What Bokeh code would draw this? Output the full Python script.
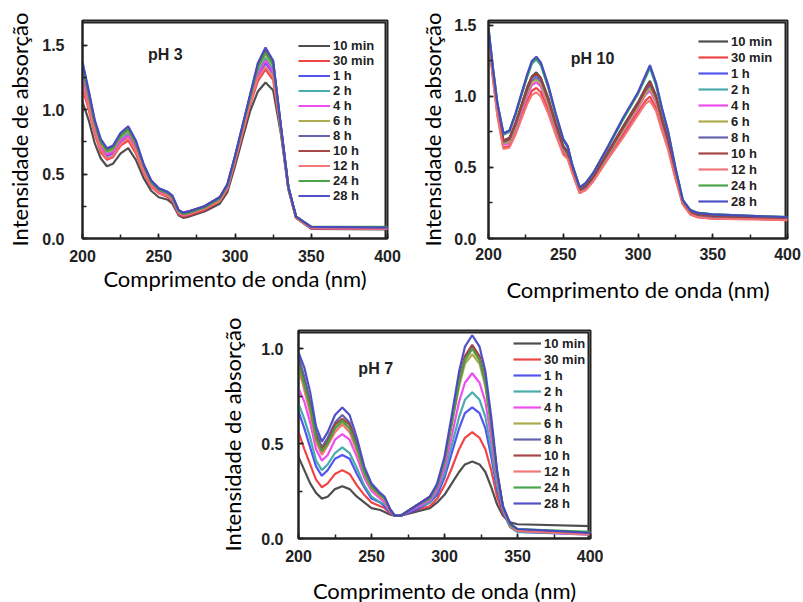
from bokeh.plotting import figure
from bokeh.layouts import column, row, Spacer
from bokeh.models import (Legend, LegendItem, Label, SingleIntervalTicker,
                          PrintfTickFormatter, Range1d)
from bokeh.embed import file_html
from bokeh.resources import INLINE

labels = ["10 min", "30 min", "1 h", "2 h", "4 h", "6 h", "8 h", "10 h", "12 h", "24 h", "28 h"]
colors = ["#444444", "#ee3b3b", "#4b4bee", "#3fa7a7", "#ee44ee", "#a8a845",
          "#5c5ca8", "#a23d3d", "#f27272", "#41a141", "#4747c4"]

# ---------------- pH 3 ----------------
wl_ph3 = [200, 204, 208, 212, 216, 220, 225, 230, 235, 240, 245, 250, 256, 259, 263, 266,
          270, 280, 290, 295, 300, 305, 310, 315, 320, 325, 330, 335, 340, 350, 400]
ph3_10min = [1.06, 0.92, 0.74, 0.62, 0.56, 0.58, 0.66, 0.70, 0.61, 0.47, 0.37, 0.32, 0.30, 0.27, 0.18, 0.16, 0.17, 0.21, 0.27, 0.36, 0.56, 0.78, 0.99, 1.14, 1.21, 1.15, 0.82, 0.38, 0.16, 0.075, 0.07]
ph3_30min = [1.17, 1.00, 0.81, 0.67, 0.61, 0.63, 0.72, 0.76, 0.66, 0.51, 0.40, 0.35, 0.32, 0.29, 0.19, 0.17, 0.18, 0.22, 0.29, 0.38, 0.59, 0.82, 1.04, 1.22, 1.31, 1.23, 0.84, 0.39, 0.16, 0.08, 0.075]
ph3_1h = [1.23, 1.05, 0.84, 0.70, 0.64, 0.66, 0.75, 0.80, 0.69, 0.53, 0.41, 0.36, 0.33, 0.30, 0.20, 0.18, 0.19, 0.23, 0.30, 0.39, 0.61, 0.84, 1.06, 1.26, 1.36, 1.28, 0.85, 0.39, 0.17, 0.08, 0.08]
ph3_2h = [1.27, 1.08, 0.86, 0.72, 0.66, 0.68, 0.77, 0.82, 0.71, 0.55, 0.43, 0.37, 0.34, 0.31, 0.21, 0.19, 0.20, 0.24, 0.31, 0.40, 0.62, 0.85, 1.08, 1.29, 1.40, 1.31, 0.86, 0.39, 0.17, 0.085, 0.08]
ph3_4h = [1.25, 1.06, 0.85, 0.71, 0.65, 0.67, 0.76, 0.80, 0.70, 0.54, 0.42, 0.36, 0.34, 0.31, 0.20, 0.18, 0.19, 0.23, 0.30, 0.40, 0.61, 0.84, 1.07, 1.27, 1.38, 1.29, 0.86, 0.39, 0.17, 0.08, 0.08]
ph3_6h = [1.31, 1.11, 0.89, 0.74, 0.67, 0.69, 0.79, 0.84, 0.73, 0.56, 0.44, 0.38, 0.35, 0.32, 0.21, 0.19, 0.20, 0.24, 0.31, 0.41, 0.63, 0.86, 1.10, 1.32, 1.43, 1.34, 0.87, 0.40, 0.17, 0.085, 0.08]
ph3_8h = [1.35, 1.14, 0.91, 0.76, 0.69, 0.71, 0.81, 0.86, 0.75, 0.57, 0.45, 0.39, 0.36, 0.33, 0.22, 0.20, 0.21, 0.25, 0.32, 0.42, 0.64, 0.87, 1.11, 1.35, 1.46, 1.37, 0.88, 0.40, 0.17, 0.09, 0.085]
ph3_10h = [1.34, 1.13, 0.90, 0.75, 0.69, 0.71, 0.80, 0.85, 0.74, 0.57, 0.44, 0.38, 0.35, 0.32, 0.22, 0.20, 0.21, 0.25, 0.32, 0.41, 0.63, 0.87, 1.11, 1.34, 1.45, 1.36, 0.87, 0.40, 0.17, 0.09, 0.085]
ph3_12h = [1.20, 1.02, 0.82, 0.69, 0.62, 0.64, 0.73, 0.78, 0.68, 0.52, 0.41, 0.35, 0.33, 0.30, 0.20, 0.18, 0.19, 0.23, 0.29, 0.39, 0.60, 0.82, 1.05, 1.24, 1.33, 1.25, 0.85, 0.39, 0.16, 0.08, 0.075]
ph3_24h = [1.33, 1.12, 0.90, 0.75, 0.68, 0.70, 0.80, 0.85, 0.74, 0.57, 0.44, 0.38, 0.35, 0.32, 0.21, 0.19, 0.20, 0.24, 0.31, 0.41, 0.63, 0.87, 1.10, 1.33, 1.44, 1.35, 0.87, 0.40, 0.17, 0.09, 0.09]
ph3_28h = [1.37, 1.15, 0.92, 0.77, 0.70, 0.72, 0.82, 0.87, 0.76, 0.58, 0.45, 0.39, 0.36, 0.33, 0.22, 0.20, 0.21, 0.25, 0.32, 0.42, 0.64, 0.88, 1.12, 1.36, 1.48, 1.38, 0.88, 0.40, 0.17, 0.09, 0.085]

# ---------------- pH 10 ----------------
wl_ph10 = [200, 203, 206, 210, 214, 218, 222, 226, 229, 232, 235, 240, 245, 250, 253, 256, 261,
           265, 270, 280, 290, 300, 305, 308, 312, 316, 320, 325, 330, 335, 340, 350, 375, 400]
ph10_10min = [1.45, 1.17, 0.91, 0.69, 0.71, 0.81, 0.94, 1.07, 1.14, 1.17, 1.13, 0.99, 0.81, 0.65, 0.61, 0.49, 0.34, 0.37, 0.43, 0.61, 0.79, 0.96, 1.06, 1.11, 1.01, 0.85, 0.70, 0.47, 0.26, 0.19, 0.17, 0.16, 0.15, 0.14]
ph10_30min = [1.43, 1.13, 0.87, 0.64, 0.65, 0.75, 0.86, 0.97, 1.04, 1.06, 1.03, 0.90, 0.75, 0.60, 0.57, 0.47, 0.32, 0.35, 0.41, 0.57, 0.73, 0.89, 0.97, 1.00, 0.92, 0.78, 0.65, 0.43, 0.24, 0.17, 0.15, 0.14, 0.14, 0.13]
ph10_1h = [1.44, 1.15, 0.90, 0.67, 0.69, 0.79, 0.91, 1.03, 1.11, 1.13, 1.10, 0.96, 0.79, 0.63, 0.60, 0.48, 0.34, 0.36, 0.42, 0.60, 0.77, 0.93, 1.03, 1.07, 0.98, 0.82, 0.68, 0.45, 0.25, 0.18, 0.16, 0.15, 0.145, 0.14]
ph10_2h = [1.48, 1.19, 0.94, 0.73, 0.75, 0.87, 1.01, 1.14, 1.23, 1.26, 1.22, 1.06, 0.87, 0.69, 0.64, 0.52, 0.36, 0.39, 0.46, 0.64, 0.84, 1.02, 1.13, 1.20, 1.08, 0.91, 0.75, 0.49, 0.27, 0.20, 0.18, 0.17, 0.16, 0.15]
ph10_4h = [1.44, 1.14, 0.89, 0.66, 0.67, 0.77, 0.89, 1.01, 1.08, 1.10, 1.07, 0.94, 0.77, 0.62, 0.59, 0.48, 0.33, 0.35, 0.42, 0.59, 0.75, 0.92, 1.01, 1.04, 0.96, 0.81, 0.67, 0.44, 0.25, 0.18, 0.16, 0.15, 0.14, 0.135]
ph10_6h = [1.44, 1.15, 0.89, 0.67, 0.68, 0.78, 0.91, 1.03, 1.10, 1.12, 1.09, 0.95, 0.78, 0.63, 0.59, 0.48, 0.33, 0.36, 0.42, 0.59, 0.76, 0.93, 1.02, 1.06, 0.97, 0.82, 0.68, 0.45, 0.25, 0.18, 0.16, 0.15, 0.144, 0.137]
ph10_8h = [1.45, 1.16, 0.90, 0.68, 0.70, 0.80, 0.93, 1.05, 1.13, 1.15, 1.12, 0.98, 0.80, 0.64, 0.60, 0.49, 0.34, 0.36, 0.43, 0.60, 0.78, 0.95, 1.05, 1.09, 1.00, 0.84, 0.69, 0.46, 0.25, 0.18, 0.16, 0.15, 0.147, 0.14]
ph10_10h = [1.45, 1.16, 0.91, 0.69, 0.70, 0.81, 0.93, 1.06, 1.14, 1.16, 1.13, 0.98, 0.81, 0.65, 0.61, 0.49, 0.34, 0.37, 0.43, 0.61, 0.78, 0.95, 1.05, 1.10, 1.00, 0.84, 0.70, 0.46, 0.26, 0.19, 0.17, 0.16, 0.148, 0.14]
ph10_12h = [1.42, 1.12, 0.86, 0.63, 0.64, 0.73, 0.84, 0.95, 1.01, 1.03, 1.00, 0.88, 0.73, 0.59, 0.56, 0.46, 0.32, 0.34, 0.40, 0.56, 0.71, 0.87, 0.95, 0.97, 0.90, 0.76, 0.63, 0.42, 0.24, 0.17, 0.15, 0.14, 0.135, 0.13]
ph10_24h = [1.48, 1.20, 0.95, 0.74, 0.76, 0.87, 1.01, 1.15, 1.24, 1.27, 1.23, 1.07, 0.87, 0.70, 0.65, 0.52, 0.36, 0.39, 0.46, 0.65, 0.84, 1.02, 1.14, 1.21, 1.09, 0.91, 0.76, 0.50, 0.27, 0.20, 0.18, 0.17, 0.16, 0.15]
ph10_28h = [1.48, 1.20, 0.95, 0.74, 0.76, 0.88, 1.02, 1.16, 1.25, 1.28, 1.24, 1.08, 0.88, 0.70, 0.65, 0.52, 0.36, 0.39, 0.46, 0.65, 0.85, 1.03, 1.15, 1.22, 1.10, 0.92, 0.76, 0.50, 0.27, 0.20, 0.18, 0.17, 0.16, 0.15]

# ---------------- pH 7 ----------------
wl_ph7 = [200, 204, 208, 212, 216, 220, 225, 230, 235, 240, 245, 250, 256, 259, 263, 266, 270,
          280, 290, 295, 300, 305, 310, 314, 319, 324, 328, 332, 336, 340, 345, 350, 400]
ph7_10min = [0.43, 0.36, 0.29, 0.24, 0.21, 0.22, 0.26, 0.275, 0.26, 0.22, 0.19, 0.16, 0.15, 0.14, 0.125, 0.12, 0.12, 0.14, 0.16, 0.19, 0.23, 0.29, 0.35, 0.39, 0.405, 0.39, 0.35, 0.27, 0.18, 0.12, 0.085, 0.075, 0.065]
ph7_30min = [0.56, 0.47, 0.39, 0.31, 0.27, 0.29, 0.34, 0.36, 0.34, 0.28, 0.23, 0.19, 0.17, 0.16, 0.13, 0.12, 0.12, 0.15, 0.17, 0.21, 0.28, 0.37, 0.47, 0.53, 0.56, 0.53, 0.47, 0.36, 0.22, 0.13, 0.07, 0.045, 0.03]
ph7_1h = [0.67, 0.58, 0.48, 0.38, 0.33, 0.36, 0.42, 0.44, 0.42, 0.34, 0.27, 0.21, 0.19, 0.17, 0.135, 0.12, 0.12, 0.15, 0.19, 0.23, 0.32, 0.45, 0.58, 0.66, 0.69, 0.66, 0.58, 0.43, 0.26, 0.14, 0.06, 0.035, 0.02]
ph7_2h = [0.71, 0.63, 0.53, 0.41, 0.36, 0.39, 0.45, 0.48, 0.45, 0.37, 0.28, 0.22, 0.19, 0.18, 0.14, 0.12, 0.12, 0.16, 0.19, 0.25, 0.34, 0.49, 0.64, 0.73, 0.77, 0.73, 0.64, 0.47, 0.28, 0.15, 0.06, 0.035, 0.025]
ph7_4h = [0.79, 0.72, 0.61, 0.47, 0.41, 0.44, 0.52, 0.55, 0.52, 0.43, 0.32, 0.25, 0.21, 0.19, 0.14, 0.12, 0.12, 0.16, 0.20, 0.26, 0.37, 0.54, 0.72, 0.82, 0.87, 0.82, 0.72, 0.53, 0.31, 0.155, 0.065, 0.04, 0.03]
ph7_6h = [0.88, 0.80, 0.68, 0.52, 0.45, 0.50, 0.58, 0.61, 0.58, 0.47, 0.34, 0.27, 0.22, 0.21, 0.145, 0.12, 0.12, 0.17, 0.21, 0.28, 0.40, 0.60, 0.80, 0.92, 0.97, 0.92, 0.80, 0.59, 0.33, 0.16, 0.07, 0.045, 0.03]
ph7_8h = [0.96, 0.85, 0.72, 0.56, 0.48, 0.53, 0.61, 0.65, 0.61, 0.50, 0.36, 0.28, 0.23, 0.21, 0.15, 0.12, 0.12, 0.17, 0.22, 0.28, 0.41, 0.62, 0.83, 0.95, 1.01, 0.95, 0.83, 0.61, 0.34, 0.17, 0.07, 0.045, 0.03]
ph7_10h = [0.93, 0.82, 0.70, 0.54, 0.47, 0.51, 0.60, 0.63, 0.60, 0.49, 0.35, 0.27, 0.23, 0.21, 0.15, 0.12, 0.12, 0.17, 0.22, 0.28, 0.41, 0.62, 0.84, 0.96, 1.02, 0.96, 0.84, 0.61, 0.35, 0.17, 0.07, 0.045, 0.03]
ph7_12h = [0.91, 0.78, 0.66, 0.51, 0.44, 0.49, 0.56, 0.60, 0.56, 0.46, 0.34, 0.26, 0.22, 0.20, 0.145, 0.12, 0.12, 0.17, 0.21, 0.28, 0.41, 0.61, 0.82, 0.94, 1.00, 0.94, 0.82, 0.60, 0.34, 0.165, 0.065, 0.04, 0.02]
ph7_24h = [0.92, 0.81, 0.69, 0.53, 0.46, 0.50, 0.58, 0.62, 0.58, 0.48, 0.35, 0.27, 0.23, 0.21, 0.15, 0.12, 0.12, 0.17, 0.21, 0.28, 0.41, 0.61, 0.82, 0.94, 1.00, 0.94, 0.82, 0.60, 0.34, 0.165, 0.07, 0.05, 0.035]
ph7_28h = [0.98, 0.90, 0.77, 0.59, 0.51, 0.56, 0.65, 0.69, 0.65, 0.53, 0.38, 0.29, 0.24, 0.22, 0.15, 0.12, 0.12, 0.17, 0.22, 0.29, 0.43, 0.65, 0.88, 1.01, 1.07, 1.01, 0.88, 0.64, 0.36, 0.17, 0.08, 0.05, 0.03]

ph3_series = [ph3_10min, ph3_30min, ph3_1h, ph3_2h, ph3_4h, ph3_6h, ph3_8h, ph3_10h, ph3_12h, ph3_24h, ph3_28h]
ph10_series = [ph10_10min, ph10_30min, ph10_1h, ph10_2h, ph10_4h, ph10_6h, ph10_8h, ph10_10h, ph10_12h, ph10_24h, ph10_28h]
ph7_series = [ph7_10min, ph7_30min, ph7_1h, ph7_2h, ph7_4h, ph7_6h, ph7_8h, ph7_10h, ph7_12h, ph7_24h, ph7_28h]

x_title = "Comprimento de onda (nm)"
y_title = "Intensidade de absorção"

TICK_FONT = "Liberation Sans"
TITLE_FONT = "Lato"
INK = "#222222"
X_MIN, X_MAX = 200, 400


def make_panel(wl, series, y_end, tag, tag_x, tag_y, fw, fh, bl, br, bt, bb,
               leg_loc, leg_h, leg_w, x_std, y_std, xlab_std, ylab_std):
    p = figure(frame_width=fw, frame_height=fh,
               min_border_left=bl, min_border_right=br,
               min_border_top=bt, min_border_bottom=bb,
               x_range=Range1d(X_MIN, X_MAX), y_range=Range1d(0, y_end),
               output_backend="svg", toolbar_location=None,
               background_fill_color="white", border_fill_color="white")
    p.grid.visible = False
    p.outline_line_color = INK
    p.outline_line_width = 2

    p.xaxis.ticker = SingleIntervalTicker(interval=50, num_minor_ticks=2)
    p.yaxis.ticker = SingleIntervalTicker(interval=0.5, num_minor_ticks=2)
    p.yaxis.formatter = PrintfTickFormatter(format="%.1f")
    for ax in (p.xaxis[0], p.yaxis[0]):
        ax.axis_line_width = 2
        ax.axis_line_color = INK
        ax.major_tick_in = 5
        ax.major_tick_out = 0
        ax.minor_tick_in = 4
        ax.minor_tick_out = 0
        ax.major_tick_line_width = 1.5
        ax.minor_tick_line_width = 1.5
        ax.major_tick_line_color = INK
        ax.minor_tick_line_color = INK
        ax.major_label_text_font = TICK_FONT
        ax.major_label_text_font_size = "16px"
        ax.major_label_text_font_style = "bold"
        ax.major_label_text_color = INK
        ax.axis_label_text_font = TITLE_FONT
        ax.axis_label_text_font_size = "22px"
        ax.axis_label_text_font_style = "normal"
        ax.axis_label_text_color = "black"
    p.xaxis.axis_label = x_title
    p.yaxis.axis_label = y_title
    p.xaxis.major_label_standoff = x_std
    p.yaxis.major_label_standoff = y_std
    p.xaxis.axis_label_standoff = xlab_std
    p.yaxis.axis_label_standoff = ylab_std

    # top and right edges of the frame box, set about 2 px inside the range limits
    top_edge = y_end * (1 - 2.0 / fh)
    right_edge = X_MAX - (X_MAX - X_MIN) * 2.0 / fw
    p.line([X_MIN, right_edge, right_edge], [top_edge, top_edge, 0],
           line_color=INK, line_width=2)

    items = []
    for lab, col, ys in zip(labels, colors, series):
        r = p.line(wl, ys, line_color=col, line_width=2.2, line_alpha=0.95)
        items.append(LegendItem(label=lab, renderers=[r]))
    leg = Legend(items=items, location=leg_loc, glyph_width=leg_w, glyph_height=leg_h,
                 label_height=leg_h, spacing=0, padding=0, margin=0, label_standoff=3,
                 label_text_font=TICK_FONT, label_text_font_size="13px",
                 label_text_font_style="bold", label_text_color=INK,
                 border_line_alpha=0, background_fill_alpha=0)
    p.add_layout(leg)

    p.add_layout(Label(x=tag_x, y=tag_y, text=tag, text_font=TICK_FONT,
                       text_font_size="16px", text_font_style="bold",
                       text_color=INK, text_baseline="middle", text_align="left"))
    return p


p1 = make_panel(wl_ph3, ph3_series, 1.69, "pH 3", 243, 1.43,
                305, 218, 82, 28, 20, 67, (216, 35), 15, 32, 11, 18, 0, 6)
p2 = make_panel(wl_ph10, ph10_series, 1.535, "pH 10", 255, 1.27,
                299, 218, 73, 16, 20, 67, (210, 29), 16, 30, 9, 12, 13, 5)
p3 = make_panel(wl_ph7, ph7_series, 1.095, "pH 7", 241, 0.895,
                292, 208, 98, 13, 25, 64, (215, 27), 16, 28, 11, 15, 12, 12)

lay = column(row(p1, p2), row(Spacer(width=200, height=297), p3))

open("out.html", "w").write(file_html(lay, INLINE))
